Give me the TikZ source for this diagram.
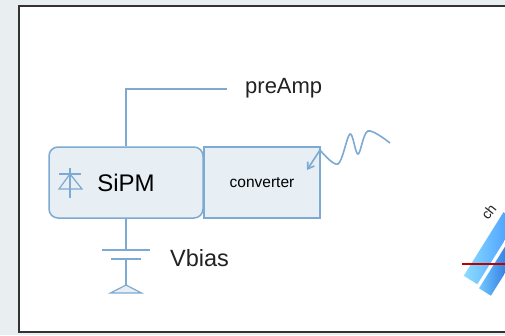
\documentclass[tikz,border=0pt]{standalone}
\usepackage{fontspec}
\setmainfont{Liberation Sans}
\usepackage{tikz}
\usetikzlibrary{arrows.meta,shadings}

\definecolor{wire}{HTML}{7DAAD2}
\definecolor{boxfill}{HTML}{E7EEF4}
\definecolor{pagebg}{HTML}{E9EEF1}
\definecolor{ink}{HTML}{222222}

\tikzset{
  wire/.style={draw=wire,line width=1.5pt},
  block/.style={wire,fill=boxfill,minimum height=71pt,inner sep=0pt},
  label/.style={text=ink,inner sep=0pt,anchor=west}
}

\begin{document}
\begin{tikzpicture}[x=1pt,y=-1pt]
\useasboundingbox (0,0) rectangle (505,335);
\fill[pagebg] (0,0) rectangle (505,335);

% frame of the panel
\fill[white] (19,6) rectangle (520,332);
\draw[line width=2pt,draw=black!80] (520,6) -- (19,6) -- (19,332) -- (520,332);

% sensor and converter
\node[block,rounded corners=9pt,minimum width=154pt] (sipm) at (126,182.5)
   {\fontsize{24}{24}\selectfont SiPM};
\node[block,minimum width=116pt] (conv) at (262,182.5)
   {\fontsize{15.5}{16}\selectfont converter};

% diode symbol
\draw[wire,line width=1.2pt] (70,168) -- (70,198);
\draw[wire,line width=1.2pt] (59,174) -- (81,174);
\draw[wire,line width=1.2pt] (70,174) -- (59,189) -- (82,189) -- cycle;

% output to the amplifier
\coordinate (amp) at (227,89);
\draw[wire] (sipm.north) |- (amp);
\node[label] (preamp) at (245,88) {\fontsize{22}{22}\selectfont preAmp};

% bias supply and ground
\coordinate (plateA) at (126,250);
\coordinate (plateB) at (126,259);
\coordinate (gnd) at (126,293);
\draw[wire] (sipm.south) -- (plateA);
\draw[wire] ([xshift=-24pt]plateA) -- ([xshift=24pt]plateA);
\draw[wire] ([xshift=-15pt]plateB) -- ([xshift=15pt]plateB);
\draw[wire] (plateB) -- (gnd);
\draw[wire,fill=boxfill,line width=1.2pt] ([xshift=-15.5pt]gnd) -- ([xshift=15.5pt]gnd)
   -- ([yshift=8pt]gnd) -- cycle;
\node[label] (vbias) at (170,258) {\fontsize{23.5}{24}\selectfont Vbias};

% incoming photon
\coordinate (hit) at (320,150);
\draw[wire,line width=1.6pt] plot[smooth,tension=0.55] coordinates
   {(390,143) (368,131) (358,154) (350,134) (338,164) (hit)};
\draw[wire,line width=1.6pt,-{Straight Barb[length=6pt,width=8pt]}] (hit) -- (307,170);

% part of the neighbouring sketch
\begin{scope}
\clip (455,190) rectangle (505,300);
\shade[left color=blue!30!cyan!45!white,right color=blue!55!cyan!75!white,rotate around={58:(488,252)}]
   (455,244) rectangle (530,260);
\shade[left color=blue!40!cyan!55!white,right color=blue!65!cyan!80!black,rotate around={58:(500,266)}]
   (470,260) rectangle (540,274);
\draw[red!75!black,line width=1.4pt] (462,264) -- (505,264);
\node[text=ink,rotate=52,inner sep=0pt,anchor=west] (chip) at (484,218)
   {\fontsize{14}{14}\selectfont ch};
\end{scope}
\end{tikzpicture}
\end{document}
